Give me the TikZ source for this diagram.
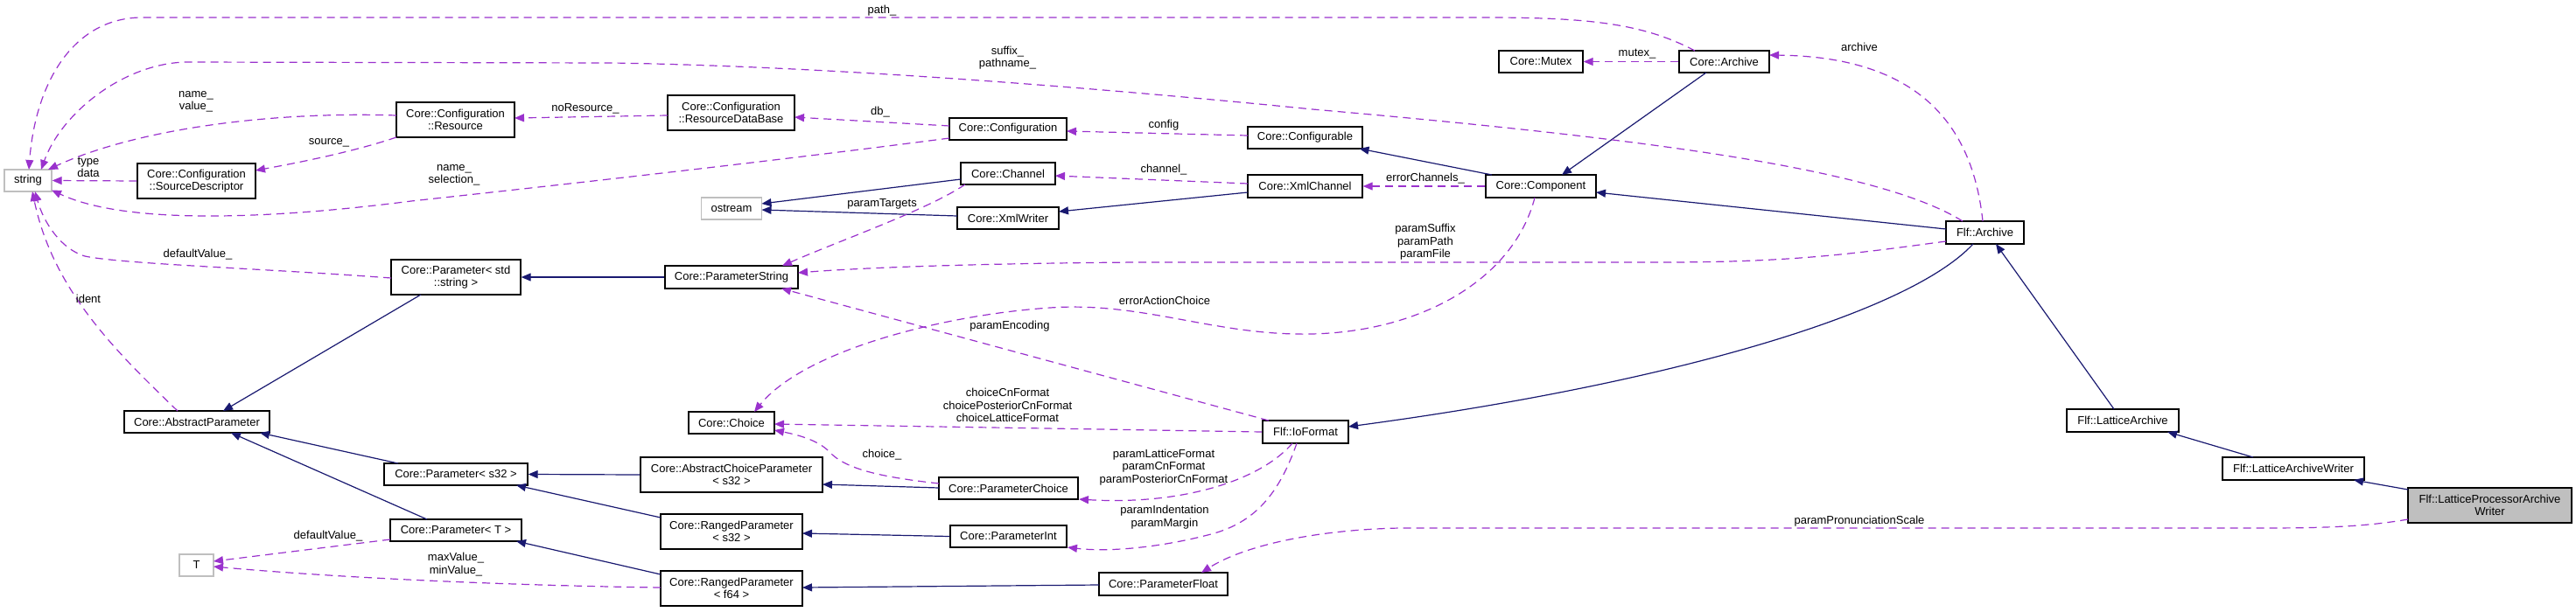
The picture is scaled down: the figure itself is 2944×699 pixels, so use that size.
\documentclass[tikz,border=0pt]{standalone}
\usepackage{fontspec}
\setmainfont{Liberation Sans}
\usetikzlibrary{arrows.meta,calc}
\definecolor{usecol}{HTML}{9A32CD}
\definecolor{inhcol}{HTML}{191970}
\definecolor{undoc}{HTML}{BFBFBF}
\begin{document}
\begin{tikzpicture}[x=1pt,y=-1pt,
  every node/.style={font=\fontsize{13}{14}\selectfont},
  cls/.style={draw=black, line width=1.3pt, fill=white, inner sep=0pt, align=center},
  ext/.style={cls, draw=undoc},
  cur/.style={cls, fill=undoc},
  inh/.style={draw=inhcol, line width=1.2pt, -{Triangle[length=11pt,width=9pt]}},
  use/.style={draw=usecol, line width=1.2pt, dash pattern=on 9pt off 6pt, -{Triangle[length=11pt,width=9pt]}},
  lbl/.style={align=center, inner sep=0pt, font=\fontsize{13}{14.5}\selectfont}
]
\useasboundingbox (0,0) rectangle (2944,699);

% ---------------- nodes ----------------
\node[ext, minimum width=54, minimum height=25] (string) at (32,206.5) {string};
\node[cls, minimum width=135, minimum height=40] (resource) at (520.5,137) {Core::Configuration\\::Resource};
\node[cls, minimum width=135, minimum height=40] (srcdesc) at (224.5,207) {Core::Configuration\\::SourceDescriptor};
\node[cls, minimum width=145, minimum height=40] (resdb) at (835.5,129) {Core::Configuration\\::ResourceDataBase};
\node[cls, minimum width=134, minimum height=25] (config) at (1152,147.5) {Core::Configuration};
\node[cls, minimum width=131, minimum height=25] (configurable) at (1491.5,157.5) {Core::Configurable};
\node[cls, minimum width=96, minimum height=25] (mutex) at (1761,70.5) {Core::Mutex};
\node[cls, minimum width=103, minimum height=25] (corearchive) at (1970.5,70.5) {Core::Archive};
\node[cls, minimum width=126, minimum height=26] (component) at (1761,213) {Core::Component};
\node[cls, minimum width=131, minimum height=26] (xmlchannel) at (1491.5,213) {Core::XmlChannel};
\node[cls, minimum width=108, minimum height=25] (channel) at (1152,198.5) {Core::Channel};
\node[cls, minimum width=116, minimum height=25] (xmlwriter) at (1152,249.5) {Core::XmlWriter};
\node[ext, minimum width=69, minimum height=25] (ostream) at (836,238.5) {ostream};
\node[cls, minimum width=152, minimum height=26] (paramstring) at (836,317) {Core::ParameterString};
\node[cls, minimum width=148, minimum height=40] (paramstd) at (521,317) {Core::Parameter< std\\::string >};
\node[cls, minimum width=89, minimum height=26] (flfarchive) at (2268.5,266) {Flf::Archive};
\node[cls, minimum width=166, minimum height=25] (absparam) at (225,482.5) {Core::AbstractParameter};
\node[cls, minimum width=98, minimum height=25] (choice) at (836,483.5) {Core::Choice};
\node[cls, minimum width=98, minimum height=26] (ioformat) at (1492,494) {Flf::IoFormat};
\node[cls, minimum width=208, minimum height=40] (abschoice) at (836,543) {Core::AbstractChoiceParameter\\< s32 >};
\node[cls, minimum width=164, minimum height=25] (params32) at (521,542.5) {Core::Parameter< s32 >};
\node[cls, minimum width=159, minimum height=25] (paramchoice) at (1152.5,558.5) {Core::ParameterChoice};
\node[cls, minimum width=162, minimum height=40] (rangeds32) at (836,608) {Core::RangedParameter\\< s32 >};
\node[cls, minimum width=133, minimum height=25] (paramint) at (1152.5,613.5) {Core::ParameterInt};
\node[cls, minimum width=150, minimum height=25] (paramT) at (521,606.5) {Core::Parameter< T >};
\node[ext, minimum width=39, minimum height=25] (T) at (224.5,646.5) {T};
\node[cls, minimum width=162, minimum height=40] (rangedf64) at (836,673) {Core::RangedParameter\\< f64 >};
\node[cls, minimum width=147, minimum height=26] (paramfloat) at (1329.5,668) {Core::ParameterFloat};
\node[cls, minimum width=128, minimum height=26] (latarch) at (2426,481) {Flf::LatticeArchive};
\node[cls, minimum width=162, minimum height=26] (latarchw) at (2621,536) {Flf::LatticeArchiveWriter};
\node[cur, minimum width=187, minimum height=40] (lpaw) at (2845.5,578) {Flf::LatticeProcessorArchive\\Writer};

% ---------------- inheritance edges ----------------
\draw[inh] ($(component.center)+(-56,-13)$) -- ($(configurable.center)+(62,12.5)$);
\draw[inh] ($(xmlchannel.center)+(-65.5,7)$) -- ($(xmlwriter.center)+(58,-7.5)$);
\draw[inh] ($(channel.center)+(-54,6.5)$) -- ($(ostream.center)+(34.5,-5.5)$);
\draw[inh] ($(xmlwriter.center)+(-58,-2.5)$) -- ($(ostream.center)+(34.5,1.5)$);
\draw[inh] (paramstring.west) -- (paramstd.east);
\draw[inh] ($(paramstd.center)+(-40,20)$) -- ($(absparam.center)+(30,-12.5)$);
\draw[inh] ($(params32.center)+(-66,-12.5)$) -- ($(absparam.center)+(72,12.5)$);
\draw[inh] ($(paramT.center)+(-33,-12.5)$) -- ($(absparam.center)+(39,12.5)$);
\draw[inh] (abschoice.west) -- (params32.east);
\draw[inh] ($(rangeds32.center)+(-81,-16)$) -- ($(params32.center)+(69,12.5)$);
\draw[inh] ($(rangedf64.center)+(-81,-16)$) -- ($(paramT.center)+(69,12.5)$);
\draw[inh] ($(paramchoice.center)+(-79.5,-0.5)$) -- ($(abschoice.center)+(104,11)$);
\draw[inh] (paramint.west) -- ($(rangeds32.center)+(81,2)$);
\draw[inh] ($(paramfloat.center)+(-73.5,1)$) -- ($(rangedf64.center)+(81,-1)$);
\draw[inh] ($(flfarchive.center)+(-44.5,-4)$) -- ($(component.center)+(63,7)$);
\draw[inh] ($(corearchive.center)+(-20.5,12.5)$) -- ($(component.center)+(24,-13)$);
\draw[inh] ($(flfarchive.center)+(-13.5,13)$) .. controls (2180,360) and (1900,440) .. ($(ioformat.center)+(49,-6)$);
\draw[inh] ($(latarch.center)+(-10,-13)$) -- ($(flfarchive.center)+(12.5,13)$);
\draw[inh] ($(latarchw.center)+(-46,-13)$) -- ($(latarch.center)+(51,13)$);
\draw[inh] ($(lpaw.center)+(-93.5,-18)$) -- ($(latarchw.center)+(69,13)$);

% ---------------- usage edges ----------------
\draw[use] ($(corearchive.center)+(-33.5,-12.5)$) .. controls (1880,28) and (1820,20) .. (1700,20) -- (160,20) .. controls (80,22) and (40,100) .. ($(string.center)+(1,-12.5)$);
\draw[use] ($(flfarchive.center)+(-25.5,-13)$) .. controls (2150,195) and (1900,160) .. (1500,125) .. controls (1250,100) and (950,76) .. (700,72) -- (212,71) .. controls (140,73) and (70,130) .. ($(string.center)+(15,-12.5)$);
\draw[use] ($(resource.center)+(-67.5,-5)$) .. controls (300,127) and (150,150) .. ($(string.center)+(23,-12.5)$);
\draw[use] (srcdesc.west) -- (string.east);
\draw[use] ($(resource.center)+(-67.5,20)$) .. controls (400,175) and (330,188) .. ($(srcdesc.center)+(67.5,-12)$);
\draw[use] ($(resdb.center)+(-72.5,3)$) -- ($(resource.center)+(67.5,-2)$);
\draw[use] ($(config.center)+(-67,-3.5)$) -- ($(resdb.center)+(72.5,5)$);
\draw[use] ($(config.center)+(-67,10.5)$) .. controls (900,182) and (700,205) .. (470,230) .. controls (330,248) and (150,260) .. ($(string.center)+(27,11)$);
\draw[use] ($(configurable.center)+(-65.5,-2.5)$) -- ($(config.center)+(67,2.5)$);
\draw[use] (component.west) -- (xmlchannel.east);
\draw[use] ($(xmlchannel.center)+(-65.5,-3)$) -- ($(channel.center)+(54,2.5)$);
\draw[use] ($(channel.center)+(-49,12.5)$) .. controls (1060,240) and (960,275) .. ($(paramstring.center)+(58,-13)$);
\draw[use] ($(paramstd.center)+(-74,1)$) .. controls (300,307) and (140,302) .. (97,293) .. controls (70,285) and (50,255) .. ($(string.center)+(8,12.5)$);
\draw[use] ($(absparam.center)+(-22,-12.5)$) .. controls (130,400) and (60,330) .. ($(string.center)+(5,12.5)$);
\draw[use] ($(rangedf64.center)+(-81,-1)$) .. controls (600,670) and (400,662) .. ($(T.center)+(19.5,1.5)$);
\draw[use] ($(paramT.center)+(-75,10.5)$) -- ($(T.center)+(19.5,-4.5)$);
\draw[use] ($(paramchoice.center)+(-79.5,-5.5)$) .. controls (1000,545) and (965,535) .. (948,517) .. controls (935,503) and (910,497) .. ($(choice.center)+(49,8.5)$);
\draw[use] (ioformat.west) -- ($(choice.center)+(49,1.5)$);
\draw[use] ($(ioformat.center)+(-42,-13)$) -- ($(paramstring.center)+(57,13)$);
\draw[use] ($(ioformat.center)+(-15,13)$) .. controls (1440,550) and (1350,578) .. ($(paramchoice.center)+(80.5,12.5)$);
\draw[use] ($(ioformat.center)+(-10,13)$) .. controls (1460,570) and (1430,600) .. (1380,612) .. controls (1330,625) and (1270,632) .. ($(paramint.center)+(67.5,12.5)$);
\draw[use] ($(component.center)+(-7,13)$) .. controls (1730,320) and (1620,385) .. (1480,382) .. controls (1380,380) and (1300,345) .. (1200,352) .. controls (1080,360) and (920,400) .. ($(choice.center)+(26,-12.5)$);
\draw[use] ($(flfarchive.center)+(-44.5,10)$) .. controls (2120,290) and (2050,300) .. (1900,300) -- (1300,300) .. controls (1150,301) and (1000,305) .. ($(paramstring.center)+(76,-5)$);
\draw[use] ($(flfarchive.center)+(-2.5,-13)$) .. controls (2255,150) and (2200,65) .. ($(corearchive.center)+(51.5,-7.5)$);
\draw[use] (corearchive.west) -- (mutex.east);
\draw[use] ($(lpaw.center)+(-93.5,16)$) .. controls (2700,603) and (2650,604) .. (2580,604) -- (1600,604) .. controls (1500,606) and (1420,625) .. ($(paramfloat.center)+(43.5,-13)$);

% ---------------- edge labels ----------------
\node[lbl] (l1) at (1008,12) {path\_};
\node[lbl] (l2) at (1151.5,66) {suffix\_\\pathname\_};
\node[lbl] (l3) at (224,116.5) {name\_\\value\_};
\node[lbl] (l4) at (101,191.5) {type\\data};
\node[lbl] (l5) at (376,163) {source\_};
\node[lbl] (l6) at (669,124) {noResource\_};
\node[lbl] (l7) at (1006,128) {db\_};
\node[lbl] (l8) at (519,200.5) {name\_\\selection\_};
\node[lbl] (l9) at (1330,143) {config};
\node[lbl] (l10) at (1629,204) {errorChannels\_};
\node[lbl] (l11) at (1330,194) {channel\_};
\node[lbl] (l12) at (1008,233) {paramTargets};
\node[lbl] (l13) at (226,291) {defaultValue\_};
\node[lbl] (l14) at (101,342) {ident};
\node[lbl] (l15) at (521,645.5) {maxValue\_\\minValue\_};
\node[lbl] (l16) at (375,613) {defaultValue\_};
\node[lbl] (l17) at (1008,520) {choice\_};
\node[lbl] (l18) at (1151.5,463.5) {choiceCnFormat\\choicePosteriorCnFormat\\choiceLatticeFormat};
\node[lbl] (l19) at (1154,373) {paramEncoding};
\node[lbl] (l20) at (1330,534.5) {paramLatticeFormat\\paramCnFormat\\paramPosteriorCnFormat};
\node[lbl] (l21) at (1331,591.5) {paramIndentation\\paramMargin};
\node[lbl] (l22) at (1331,344) {errorActionChoice};
\node[lbl] (l23) at (1629,277) {paramSuffix\\paramPath\\paramFile};
\node[lbl] (l24) at (2125,54) {archive};
\node[lbl] (l25) at (1871,62) {mutex\_};
\node[lbl] (l26) at (2125,596) {paramPronunciationScale};
\end{tikzpicture}
\end{document}
